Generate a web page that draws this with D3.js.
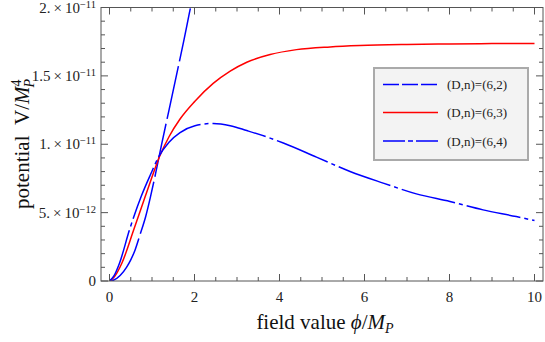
<!DOCTYPE html>
<html>
<head>
<meta charset="utf-8">
<script src="https://cdn.jsdelivr.net/npm/d3@7"></script>
<style>
  body { margin: 0; background: #fff; }
  svg { display: block; font-family: "Liberation Serif", "DejaVu Serif", serif; }
</style>
</head>
<body>
<div id="chart"></div>
<script>
// values (phi in M_P, V in units of 1e-12 M_P^4)
const phi62 = [0, 0.1, 0.25, 0.4, 0.5, 0.6, 0.72, 0.85, 0.96, 1.08, 1.17, 1.23, 1.4, 1.6, 1.75, 1.88, 2.0];
const v62   = [0, 0.07, 0.4, 1.0, 1.55, 2.25, 3.4, 4.7, 6.1, 7.8, 9.15, 10.05, 12.5, 15.4, 17.6, 19.6, 21.4];

const phi63 = [0, 0.1, 0.29, 0.57, 0.84, 1.0, 1.17, 1.4, 1.66, 2.01, 2.44, 2.84, 3.23, 3.78, 4.4, 5.19, 5.89, 7, 8, 9, 10];
const v63   = [0, 0.25, 1.3, 3.74, 6.18, 7.6, 9.05, 10.55, 11.85, 13.15, 14.45, 15.35, 16.0, 16.56, 16.92, 17.12, 17.22, 17.3, 17.34, 17.36, 17.36];

const phi64 = [0, 0.1, 0.235, 0.47, 0.745, 0.96, 1.17, 1.4, 1.66, 2.01, 2.44, 2.84, 3.23, 3.78, 4.09, 4.87, 5.66, 6.44, 7.22, 8.01, 8.79, 9.57, 10];
const v64   = [0, 0.35, 1.3, 3.74, 6.18, 7.75, 9.15, 10.15, 10.85, 11.36, 11.52, 11.36, 11.0, 10.45, 10.09, 9.06, 8.01, 7.16, 6.37, 5.81, 5.2, 4.71, 4.42];

const seriesNames = ["(D,n)=(6,2)", "(D,n)=(6,3)", "(D,n)=(6,4)"];
const xTicks = [0, 2, 4, 6, 8, 10];
const yTicks = [0, 5, 10, 15, 20];
const yTickMant = ["0", "5.", "1.", "1.5", "2."];
const yTickExp = ["", "\u221212", "\u221211", "\u221211", "\u221211"];

const W = 545, H = 342;
const pLeft = 101, pRight = 543, pTop = 7.5, pBottom = 281;

const svg = d3.select("#chart").append("svg")
    .attr("width", W)
    .attr("height", H);

const x = d3.scaleLinear().domain([-0.2, 10.2]).range([pLeft, pRight]);
const y = d3.scaleLinear().domain([0, 20]).range([pBottom, pTop]);

// clip curves to the frame
svg.append("clipPath").attr("id", "clip")
  .append("rect")
    .attr("x", pLeft).attr("y", pTop)
    .attr("width", pRight - pLeft).attr("height", pBottom - pTop);

const line = d3.line()
    .x(d => x(d[0]))
    .y(d => y(d[1]))
    .curve(d3.curveMonotoneX);

const series = [
    { pts: d3.zip(phi62, v62), color: "#0000ff", dash: "54,5", legDash: "16,3" },
    { pts: d3.zip(phi63, v63), color: "#ff0000", dash: null, legDash: null },
    { pts: d3.zip(phi64, v64), color: "#0000ff", dash: "55,4,4,4", legDash: "22,3,5,3" }
];

const plot = svg.append("g").attr("clip-path", "url(#clip)");
series.forEach(s => {
    plot.append("path")
        .attr("d", line(s.pts))
        .attr("fill", "none")
        .attr("stroke", s.color)
        .attr("stroke-width", 1.5)
        .attr("stroke-dasharray", s.dash);
});

// frame and ticks (inward, all four sides)
const frameColor = "#555";
svg.append("rect")
    .attr("x", pLeft).attr("y", pTop)
    .attr("width", pRight - pLeft).attr("height", pBottom - pTop)
    .attr("fill", "none")
    .attr("stroke", frameColor)
    .attr("stroke-width", 1);

const xMinor = d3.range(0.5, 10, 0.5).filter(v => v % 2 !== 0);
const yMinor = d3.range(1, 20, 1).filter(v => v % 5 !== 0);
const tk = svg.append("g").attr("stroke", frameColor).attr("stroke-width", 1);

function xTickLines(vals, len) {
    vals.forEach(v => {
        const px = x(v);
        tk.append("line").attr("x1", px).attr("x2", px).attr("y1", pBottom).attr("y2", pBottom - len);
        tk.append("line").attr("x1", px).attr("x2", px).attr("y1", pTop).attr("y2", pTop + len);
    });
}
function yTickLines(vals, len) {
    vals.forEach(v => {
        const py = y(v);
        tk.append("line").attr("x1", pLeft).attr("x2", pLeft + len).attr("y1", py).attr("y2", py);
        tk.append("line").attr("x1", pRight).attr("x2", pRight - len).attr("y1", py).attr("y2", py);
    });
}
xTickLines(xTicks, 7);
xTickLines(xMinor, 4);
yTickLines(yTicks, 7);
yTickLines(yMinor, 4);

// tick labels
svg.append("g").selectAll("text")
    .data(xTicks)
    .enter().append("text")
    .attr("x", d => x(d))
    .attr("y", 302)
    .attr("text-anchor", "middle")
    .attr("font-size", 15)
    .attr("fill", "#222")
    .text(d => d);

const yl = svg.append("g").selectAll("text")
    .data(yTicks)
    .enter().append("text")
    .attr("x", 96)
    .attr("y", d => y(d) + 5)
    .attr("text-anchor", "end")
    .attr("font-size", 15)
    .attr("fill", "#222");
yl.each(function(d, i) {
    const t = d3.select(this);
    if (i === 0) { t.text("0"); return; }
    t.append("tspan").text(yTickMant[i] + "\u2009\u00d7\u200910");
    t.append("tspan").attr("dy", -5).attr("font-size", 10.5).text(yTickExp[i]);
});

// axis titles
svg.append("text")
    .attr("x", 325)
    .attr("y", 329)
    .attr("text-anchor", "middle")
    .attr("font-size", 21)
    .attr("fill", "#111")
    .call(t => {
        t.append("tspan").text("field value ");
        t.append("tspan").attr("font-style", "italic").text("\u03d5");
        t.append("tspan").text("/");
        t.append("tspan").attr("font-style", "italic").text("M");
        t.append("tspan").attr("font-style", "italic").attr("font-size", 14).attr("dy", 4).text("P");
    });

svg.append("text")
    .attr("transform", "translate(29,144) rotate(-90)")
    .attr("text-anchor", "middle")
    .attr("font-size", 21)
    .attr("fill", "#111")
    .call(t => {
        t.append("tspan").text("potential\u2002V/");
        t.append("tspan").attr("font-style", "italic").text("M");
        t.append("tspan").attr("font-size", 14).attr("dy", -8).text("4");
        t.append("tspan").attr("font-style", "italic").attr("font-size", 14).attr("dx", -8).attr("dy", 13).text("P");
    });

// legend
const lg = svg.append("g");
lg.append("rect")
    .attr("x", 374).attr("y", 68)
    .attr("width", 154).attr("height", 92)
    .attr("fill", "#f3f3f3")
    .attr("stroke", "#aaa")
    .attr("stroke-width", 2);

const rowY = [84.5, 112.5, 141];
series.forEach((s, i) => {
    lg.append("line")
        .attr("x1", 383).attr("x2", 438)
        .attr("y1", rowY[i]).attr("y2", rowY[i])
        .attr("stroke", s.color)
        .attr("stroke-width", 1.5)
        .attr("stroke-dasharray", s.legDash);
    lg.append("text")
        .attr("x", 447)
        .attr("y", rowY[i] + 4.5)
        .attr("font-size", 13)
        .attr("fill", "#222")
        .text(seriesNames[i]);
});
</script>
</body>
</html>
